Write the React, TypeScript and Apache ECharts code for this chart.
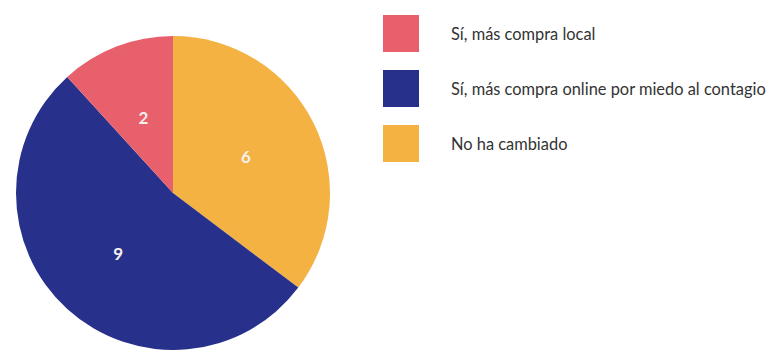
import React, { useEffect, useRef } from "react";
import * as echarts from "echarts";

const categories = [
  "Sí, más compra local",
  "Sí, más compra online por miedo al contagio",
  "No ha cambiado",
];
const values = [2, 9, 6];
const colors = ["#E8606B", "#27308A", "#F3B242"];
// drawing order around the pie (clockwise from 12 o'clock)
const pieOrder = [2, 1, 0];

export default function App() {
  const ref = useRef<HTMLDivElement>(null);
  useEffect(() => {
    if (!ref.current) return;
    const chart = echarts.init(ref.current, undefined, { renderer: "svg" });
    chart.setOption({
      animation: false,
      backgroundColor: "#ffffff",
      legend: {
        orient: "vertical",
        left: 383,
        top: 15,
        padding: 0,
        itemWidth: 36,
        itemHeight: 37,
        itemGap: 18,
        icon: "rect",
        data: categories,
        selectedMode: false,
        textStyle: {
          fontFamily: "Lato",
          fontSize: 16.4,
          color: "#333333",
          padding: [0, 0, 0, 27],
        },
      },
      series: [
        {
          type: "pie",
          center: [173, 193],
          radius: [0, 157],
          startAngle: 90,
          clockwise: true,
          avoidLabelOverlap: false,
          label: {
            show: true,
            position: "inner",
            formatter: "{c}",
            color: "#F5F0EE",
            fontFamily: "Lato",
            fontWeight: "bold",
            fontSize: 17,
          },
          labelLine: { show: false },
          itemStyle: { borderWidth: 0 },
          emphasis: { disabled: true },
          data: pieOrder.map((i) => ({
            name: categories[i],
            value: values[i],
            itemStyle: { color: colors[i] },
          })),
        },
      ],
    });
    return () => chart.dispose();
  }, []);
  return (
    <div
      ref={ref}
      style={{ position: "fixed", left: 0, top: 0, width: 769, height: 351 }}
    />
  );
}
